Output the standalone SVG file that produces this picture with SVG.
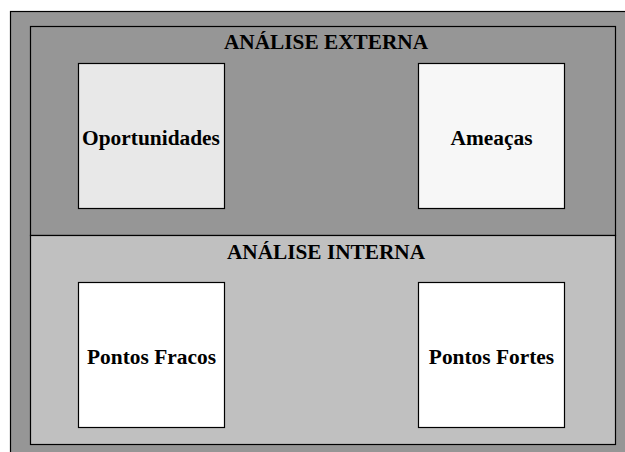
<svg xmlns="http://www.w3.org/2000/svg" width="625" height="452" viewBox="0 0 625 452">
<style>
.t{font-family:"Liberation Serif","Times New Roman",serif;font-weight:bold;fill:#000;text-anchor:middle}
.h{font-size:21.3px}
.n{font-size:21.4px}
.b{stroke:#000;stroke-width:1.2}
</style>
<rect width="625" height="452" fill="#ffffff"/>
<g id="frame">
<rect class="b" x="10.5" y="11.5" width="630" height="460" fill="#969696"/>
</g>
<g id="externa">
<rect class="b" x="30.5" y="26.5" width="585" height="209" fill="#969696"/>
<text class="t h" x="326" y="49">ANÁLISE EXTERNA</text>
</g>
<g id="interna">
<rect class="b" x="30.5" y="235.5" width="585" height="209" fill="#c0c0c0"/>
<text class="t h" x="326" y="259">ANÁLISE INTERNA</text>
</g>
<g id="oportunidades">
<rect class="b" x="78.5" y="63.5" width="146" height="145" fill="#e8e8e8"/>
<text class="t n" x="151" y="145">Oportunidades</text>
</g>
<g id="ameacas">
<rect class="b" x="418.5" y="63.5" width="146" height="145" fill="#f7f7f7"/>
<text class="t n" x="491.5" y="145">Ameaças</text>
</g>
<g id="fracos">
<rect class="b" x="78.5" y="282.5" width="146" height="145" fill="#ffffff"/>
<text class="t n" x="151.5" y="364">Pontos Fracos</text>
</g>
<g id="fortes">
<rect class="b" x="418.5" y="282.5" width="146" height="145" fill="#ffffff"/>
<text class="t n" x="491.5" y="364">Pontos Fortes</text>
</g>
<g id="connectors"></g>
</svg>
